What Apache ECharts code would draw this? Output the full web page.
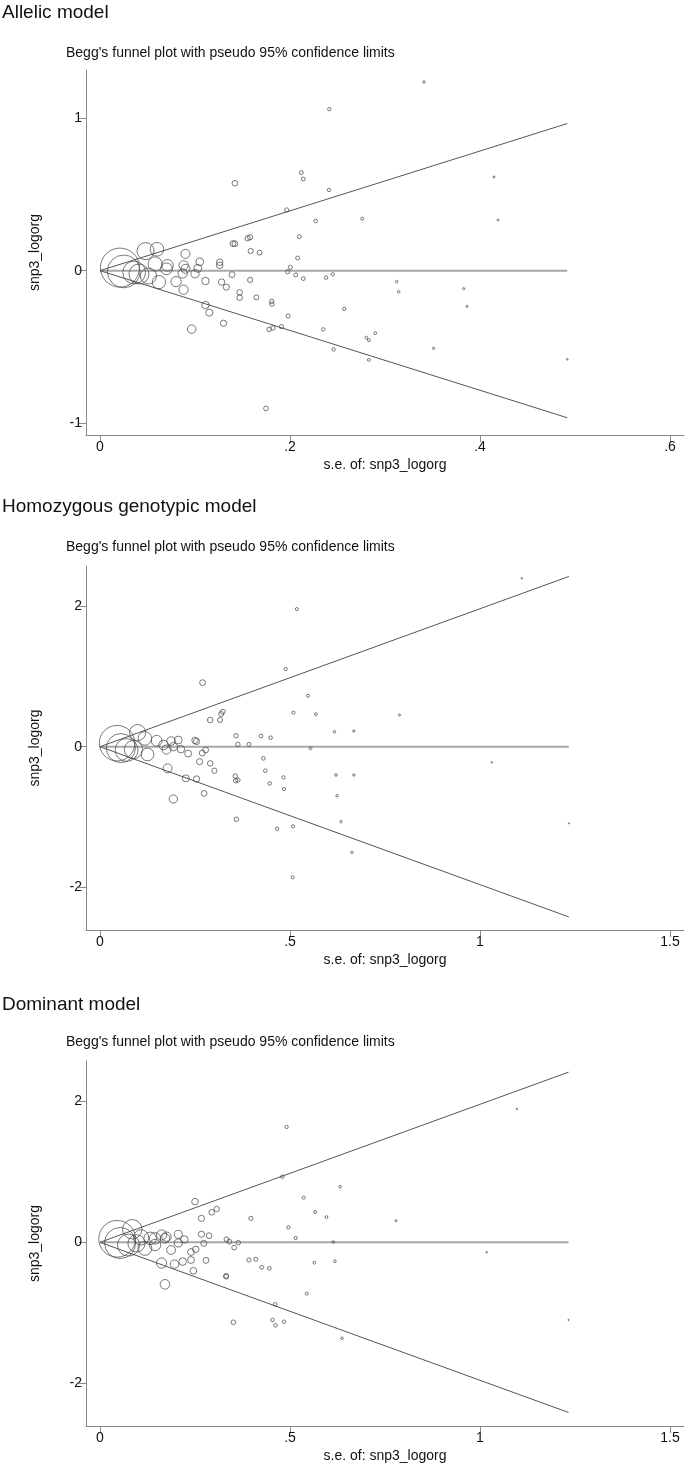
<!DOCTYPE html>
<html><head><meta charset="utf-8">
<script src="https://cdn.jsdelivr.net/npm/echarts@6/dist/echarts.min.js"></script>
<style>html,body{margin:0;padding:0;background:#fff}#c{width:685px;height:1467px}</style>
</head><body><div id="c"></div>
<script>
// ---------- text ----------
const panelTitles = ['Allelic model', 'Homozygous genotypic model', 'Dominant model'];
const subTitle = "Begg's funnel plot with pseudo 95% confidence limits";
const yName = 'snp3_logorg';
const xName = 's.e. of: snp3_logorg';

// ---------- ticks ----------
const xTicks1 = [0, 0.2, 0.4, 0.6];
const xTickLabels1 = ['0', '.2', '.4', '.6'];
const xTicks23 = [0, 0.5, 1, 1.5];
const xTickLabels23 = ['0', '.5', '1', '1.5'];
const yTicks1 = [-1, 0, 1];
const yTicks23 = [-2, 0, 2];

// pooled estimate (centre line) per panel
const pooled = [0, 0, 0];

// ---------- data: [s.e., log OR] ----------
const allelic = [
  [0.021,0.020],[0.025,-0.005],[0.036,-0.012],[0.041,-0.022],[0.048,0.128],[0.060,0.140],
  [0.058,0.044],[0.051,-0.035],[0.062,-0.075],[0.071,0.035],[0.070,0.012],[0.080,-0.072],
  [0.090,0.110],[0.088,0.035],[0.090,0.012],[0.087,-0.018],[0.088,-0.125],[0.100,-0.020],
  [0.105,0.058],[0.103,0.015],[0.111,-0.068],[0.126,0.055],[0.126,0.035],[0.128,-0.075],
  [0.133,-0.108],[0.111,-0.225],[0.115,-0.275],[0.130,-0.345],[0.0965,-0.383],[0.139,-0.026],
  [0.140,0.177],[0.142,0.177],[0.142,0.573],[0.1554,0.212],[0.158,0.219],[0.1586,0.129],
  [0.168,0.118],[0.158,-0.061],[0.147,-0.142],[0.147,-0.177],[0.1646,-0.175],[0.1807,-0.201],
  [0.181,-0.219],[0.178,-0.385],[0.182,-0.376],[0.191,-0.367],[0.198,-0.297],[0.1747,-0.903],
  [0.1965,0.398],[0.2004,0.022],[0.1975,-0.007],[0.206,-0.028],[0.208,0.083],[0.2098,0.223],
  [0.212,0.643],[0.214,0.601],[0.214,-0.052],[0.227,0.326],[0.2414,1.058],[0.241,0.529],
  [0.238,-0.046],[0.245,-0.024],[0.235,-0.385],[0.246,-0.516],[0.257,-0.251],[0.276,0.341],
  [0.2804,-0.439],[0.283,-0.456],[0.2898,-0.410],[0.283,-0.585],[0.3123,-0.072],[0.3144,-0.138],
  [0.341,1.237],[0.3512,-0.509],[0.3828,-0.118],[0.3863,-0.234],[0.4147,0.614],[0.419,0.332],
  [0.4919,-0.581]
];
const homozygous = [
  [0.045,0.050],[0.055,-0.020],[0.070,-0.047],[0.088,-0.040],[0.099,0.200],[0.118,0.118],
  [0.125,-0.110],[0.149,0.085],[0.167,0.024],[0.175,-0.040],[0.187,0.080],[0.193,0.000],
  [0.206,0.095],[0.213,-0.035],[0.232,-0.097],[0.250,0.090],[0.254,0.074],[0.269,-0.090],
  [0.278,-0.047],[0.262,-0.213],[0.290,-0.237],[0.301,-0.341],[0.178,-0.308],[0.226,-0.450],
  [0.254,-0.459],[0.193,-0.743],[0.274,-0.663],[0.270,0.909],[0.290,0.379],[0.316,0.379],
  [0.319,0.464],[0.323,0.497],[0.358,0.156],[0.363,0.033],[0.392,0.033],[0.356,-0.417],
  [0.357,-0.483],[0.363,-0.473],[0.359,-1.032],[0.4237,0.152],[0.449,0.128],[0.430,-0.166],
  [0.435,-0.341],[0.4465,-0.521],[0.483,-0.436],[0.484,-0.601],[0.466,-1.165],[0.508,-1.132],
  [0.507,-1.856],[0.4886,1.103],[0.509,0.483],[0.518,1.955],[0.547,0.724],[0.568,0.462],
  [0.554,-0.024],[0.617,0.213],[0.668,0.223],[0.621,-0.402],[0.668,-0.402],[0.624,-0.696],
  [0.634,-1.065],[0.663,-1.501],[0.788,0.450],[1.031,-0.223],[1.110,2.391],[1.234,-1.089]
];
const dominant = [
  [0.045,0.050],[0.053,-0.010],[0.085,0.185],[0.075,-0.040],[0.096,-0.015],[0.108,0.070],
  [0.118,-0.086],[0.132,0.056],[0.145,0.056],[0.145,-0.038],[0.162,0.104],[0.171,0.056],
  [0.175,0.080],[0.187,-0.109],[0.206,0.113],[0.206,-0.010],[0.222,0.040],[0.250,0.577],
  [0.267,0.340],[0.294,0.426],[0.307,0.473],[0.267,0.115],[0.287,0.094],[0.273,-0.015],
  [0.252,-0.100],[0.2395,-0.138],[0.279,-0.256],[0.2456,-0.405],[0.162,-0.295],[0.196,-0.310],
  [0.2175,-0.274],[0.2395,-0.251],[0.171,-0.597],[0.333,0.042],[0.340,0.009],[0.353,-0.076],
  [0.364,-0.005],[0.397,0.340],[0.392,-0.251],[0.410,-0.241],[0.332,-0.478],[0.332,-0.487],
  [0.351,-1.136],[0.4254,-0.355],[0.4456,-0.369],[0.461,-0.880],[0.454,-1.103],[0.462,-1.179],
  [0.484,-1.127],[0.491,1.638],[0.480,0.932],[0.4956,0.212],[0.515,0.061],[0.536,0.634],
  [0.544,-0.729],[0.564,-0.289],[0.566,0.430],[0.596,0.359],[0.614,0.004],[0.618,-0.270],
  [0.632,0.790],[0.637,-1.364],[0.779,0.307],[1.0175,-0.142],[1.097,1.893],[1.233,-1.103]
];

// ---------- layout / style ----------
const FONT = "'Liberation Sans', Arial, sans-serif";
const AXIS_C = '#8a8a8a';
const panels = [
  { data: allelic,    grid: {left: 86, top: 70,   width: 598, height: 365},
    x: [-0.01474, 0.61474], y: [-1.077, 1.315], xt: xTicks1, xl: xTickLabels1, yt: yTicks1,
    k: 0.82, titleTop: 3, subTop: 46 },
  { data: homozygous, grid: {left: 86, top: 566,  width: 598, height: 364},
    x: [-0.03684, 1.5368], y: [-2.604, 2.567], xt: xTicks23, xl: xTickLabels23, yt: yTicks23,
    k: 1.6, titleTop: 497, subTop: 540 },
  { data: dominant,   grid: {left: 86, top: 1061, width: 598, height: 365},
    x: [-0.03684, 1.5368], y: [-2.609, 2.575], xt: xTicks23, xl: xTickLabels23, yt: yTicks23,
    k: 1.65, titleTop: 995, subTop: 1035 }
];

const option = { animation: false, backgroundColor: '#fff', title: [], grid: [], xAxis: [], yAxis: [], series: [] };

panels.forEach((p, i) => {
  option.title.push({ text: panelTitles[i], left: 2, top: p.titleTop, padding: 0,
    textStyle: { fontFamily: FONT, fontSize: 19, fontWeight: 'normal', color: '#111' } });
  option.title.push({ text: subTitle, left: 66, top: p.subTop, padding: 0,
    textStyle: { fontFamily: FONT, fontSize: 14, fontWeight: 'normal', color: '#111' } });
  option.grid.push(Object.assign({ containLabel: false }, p.grid));
  option.xAxis.push({
    type: 'value', gridIndex: i, min: p.x[0], max: p.x[1],
    name: xName, nameLocation: 'middle', nameGap: 23,
    nameTextStyle: { fontFamily: FONT, fontSize: 14, color: '#111' },
    axisLine: { show: true, onZero: false, lineStyle: { color: AXIS_C, width: 1 } },
    axisTick: { show: true, length: 7, customValues: p.xt, lineStyle: { color: AXIS_C } },
    axisLabel: { customValues: p.xt, margin: 5, fontFamily: FONT, fontSize: 14, color: '#111',
      formatter: v => p.xl[p.xt.indexOf(v)] },
    splitLine: { show: false }
  });
  option.yAxis.push({
    type: 'value', gridIndex: i, min: p.y[0], max: p.y[1],
    name: yName, nameLocation: 'middle', nameGap: 44, nameRotate: 90,
    nameTextStyle: { fontFamily: FONT, fontSize: 14, color: '#111' },
    axisLine: { show: true, onZero: false, lineStyle: { color: AXIS_C, width: 1 } },
    axisTick: { show: true, length: 7, customValues: p.yt, lineStyle: { color: AXIS_C } },
    axisLabel: { customValues: p.yt, margin: 4, fontFamily: FONT, fontSize: 14, color: '#111',
      formatter: v => String(v) },
    splitLine: { show: false }
  });
  const maxSe = Math.max(...p.data.map(d => d[0]));
  const c = pooled[i];
  const lineBase = { type: 'line', xAxisIndex: i, yAxisIndex: i, symbol: 'none', silent: true, animation: false };
  option.series.push(Object.assign({}, lineBase, { data: [[0, c], [maxSe, c]], z: 1,
    lineStyle: { color: '#a8a8a8', width: 2 } }));
  option.series.push(Object.assign({}, lineBase, { data: [[0, c], [maxSe, c + 1.96 * maxSe]], z: 2,
    lineStyle: { color: '#555', width: 1 } }));
  option.series.push(Object.assign({}, lineBase, { data: [[0, c], [maxSe, c - 1.96 * maxSe]], z: 2,
    lineStyle: { color: '#555', width: 1 } }));
  option.series.push({
    type: 'scatter', xAxisIndex: i, yAxisIndex: i, data: p.data, z: 3,
    symbol: 'circle', symbolSize: v => p.k / v[0],
    itemStyle: { color: 'rgba(0,0,0,0)', borderColor: '#444', borderWidth: 0.9 },
    silent: true
  });
});

const chart = echarts.init(document.getElementById('c'), null, { renderer: 'canvas' });
chart.setOption(option);
</script></body></html>
